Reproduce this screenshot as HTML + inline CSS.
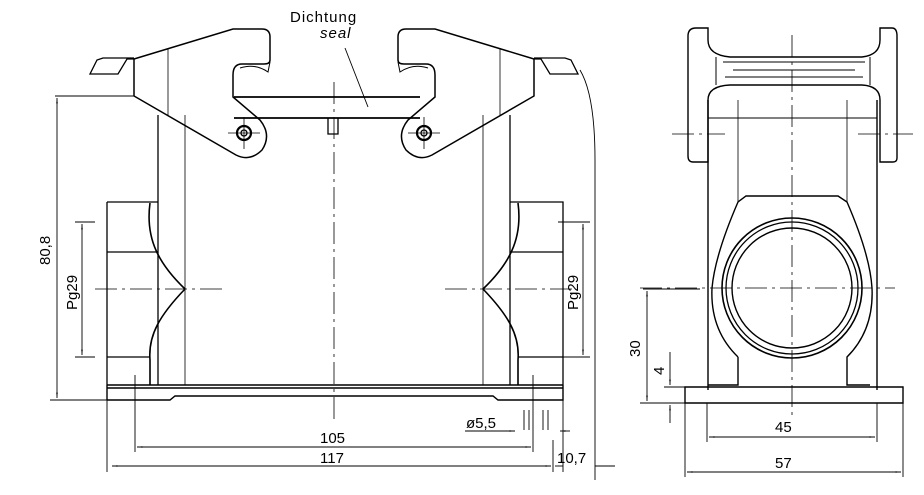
<!DOCTYPE html>
<html><head><style>body{margin:0;background:#fff}svg{display:block}text{font-family:"Liberation Sans",sans-serif;font-size:15px;fill:#000}</style></head><body>
<svg width="924" height="495" viewBox="0 0 924 495" xmlns="http://www.w3.org/2000/svg">
<defs><marker id="a" viewBox="0 0 10 10" refX="10" refY="5" markerWidth="9" markerHeight="6" orient="auto-start-reverse"><path d="M0,3.5L10,5L0,6.5z" fill="#000"/></marker></defs>
<g fill="none" stroke="#000" stroke-width="1.3">
<!-- front body -->
<path d="M158,115V385M510,115V385"/>
<path d="M185,115V385M483,115V385" stroke-width="0.8"/>
<path d="M107,202H158M107,202V385M510,202H563V385M107,252H158M510,252H563M107,357H150M518,357H563"/>
<path d="M150,203C145,240 160,265 185,289C160,315 148,335 150,360V385" stroke-width="1.6"/>
<path d="M518,203C523,240 508,265 483,289C508,315 520,335 518,360V385" stroke-width="1.6"/>
<path d="M107,385H563M107,388H563M107,400H170L175,396H493L498,400H563V385M107,385V400" stroke-width="1.4"/>
<!-- seal -->
<path d="M234,97H420M234,118H420" stroke-width="1.8"/>
<path d="M328,118V134H338V118"/>
<!-- left lever -->
<path d="M134,59L233,29H262Q270,29 270,37V60Q270,64 264,64H242Q233,64 233,75V97L260,120Q272,135 262,150Q250,162 236,155L134,96V59Z" stroke-width="1.5"/>
<path d="M134,59H127L118,74H90L97,60L103,58H134" />
<path d="M168,48V115" stroke-width="0.8"/>
<path d="M240,68Q255,63 268,72L270,62" stroke-width="1"/>
<!-- right lever -->
<path d="M534,59L435,29H406Q398,29 398,37V60Q398,64 404,64H426Q435,64 435,75V97L408,120Q396,135 406,150Q418,162 432,155L534,96V59Z" stroke-width="1.5"/>
<path d="M534,59H541L550,74H578L571,60L565,58H534"/>
<path d="M500,48V115" stroke-width="0.8"/>
<path d="M428,68Q413,63 400,72L398,62" stroke-width="1"/>
<circle cx="244" cy="133" r="7" stroke-width="2.2"/><circle cx="244" cy="133" r="3"/>
<circle cx="424" cy="133" r="7" stroke-width="2.2"/><circle cx="424" cy="133" r="3"/>
<path d="M228,133H260M244,117V149M408,133H440M424,117V149" stroke-width="0.8"/>
<!-- center lines -->
<path d="M334,82V420M95,289H225M445,289H575" stroke-width="0.8" stroke-dasharray="22,5,3,5"/>
<path d="M345,48L368,107" stroke-width="0.9"/>
<!-- right arc -->
<path d="M580,70Q595,95 595,160V480" stroke-width="0.9"/>
<!-- dims front -->
<g stroke-width="0.9">
<path d="M55,96H134M50,400H107"/>
<path d="M57,98V398" marker-start="url(#a)" marker-end="url(#a)"/>
<path d="M75,222H95M75,357H95M558,222H590M558,357H590"/>
<path d="M82,224V355" marker-start="url(#a)" marker-end="url(#a)"/>
<path d="M583,224V355" marker-start="url(#a)" marker-end="url(#a)"/>
<path d="M135,375V452M533,375V452M107,400V472M563,400V472M553,440V472"/>
<path d="M137,447H531" marker-start="url(#a)" marker-end="url(#a)"/>
<path d="M112,466H551" marker-start="url(#a)" marker-end="url(#a)"/>
<path d="M555,466H563" /><path d="M595,466H615M597,466H600"/>
<path d="M465,431H515" marker-end="url(#a)"/><path d="M560,431H570" marker-start="url(#a)"/>
<path d="M524,410V430M529,410V430M543,410V430M548,410V430"/>
</g>
<!-- side view -->
<path d="M688,36Q688,28 696,28H708V40Q708,55 730,57H862Q880,55 880,40V28H892Q897,28 897,36V158Q897,162 893,162H880V100Q880,86 862,85H730Q708,86 708,100V162H693Q688,162 688,156Z" stroke-width="1.4"/>
<path d="M708,100V390M877,100V390" stroke-width="1.4"/>
<path d="M708,118H877M716,57V85M870,57V85M723,62H865M733,70H855M725,77H863" stroke-width="1"/>
<path d="M738,100V202M847,100V202" stroke-width="0.8"/>
<path d="M738,357Q710,330 712,288Q715,255 738,202L746,196H838L847,202Q870,255 872,288Q874,330 847,357V385H870M738,357V385H708" stroke-width="1.4"/>
<circle cx="792" cy="288" r="70" stroke-width="1.6"/><circle cx="792" cy="288" r="66"/><circle cx="792" cy="288" r="60" stroke-width="1.4"/>
<path d="M685,387H903V403H685Z" stroke-width="1.4"/>
<path d="M792,35V415M640,288H895M672,134H725M858,134H913" stroke-width="0.8" stroke-dasharray="22,5,3,5"/>
<g stroke-width="0.9">
<path d="M643,289H700M640,403H685M664,387H690"/>
<path d="M647,291V401" marker-start="url(#a)" marker-end="url(#a)"/>
<path d="M670,352V385" marker-end="url(#a)"/><path d="M670,405V423" marker-start="url(#a)"/>
<path d="M707,403V442M877,403V442M685,403V477M903,403V477"/>
<path d="M709,437H875" marker-start="url(#a)" marker-end="url(#a)"/>
<path d="M687,472H901" marker-start="url(#a)" marker-end="url(#a)"/>
</g>
</g>
<text x="290" y="22" style="letter-spacing:1px">Dichtung</text>
<text x="320" y="38" font-style="italic" style="letter-spacing:1px">seal</text>
<text x="320" y="443">105</text><text x="320" y="463">117</text>
<text x="557" y="463">10,7</text><text x="466" y="428">ø5,5</text>
<text x="775" y="432">45</text><text x="775" y="468">57</text>
<text transform="translate(50,265) rotate(-90)">80,8</text>
<text transform="translate(77,310) rotate(-90)">Pg29</text>
<text transform="translate(578,310) rotate(-90)">Pg29</text>
<text transform="translate(640,357) rotate(-90)">30</text>
<text transform="translate(664,375) rotate(-90)">4</text>
</svg>
</body></html>
